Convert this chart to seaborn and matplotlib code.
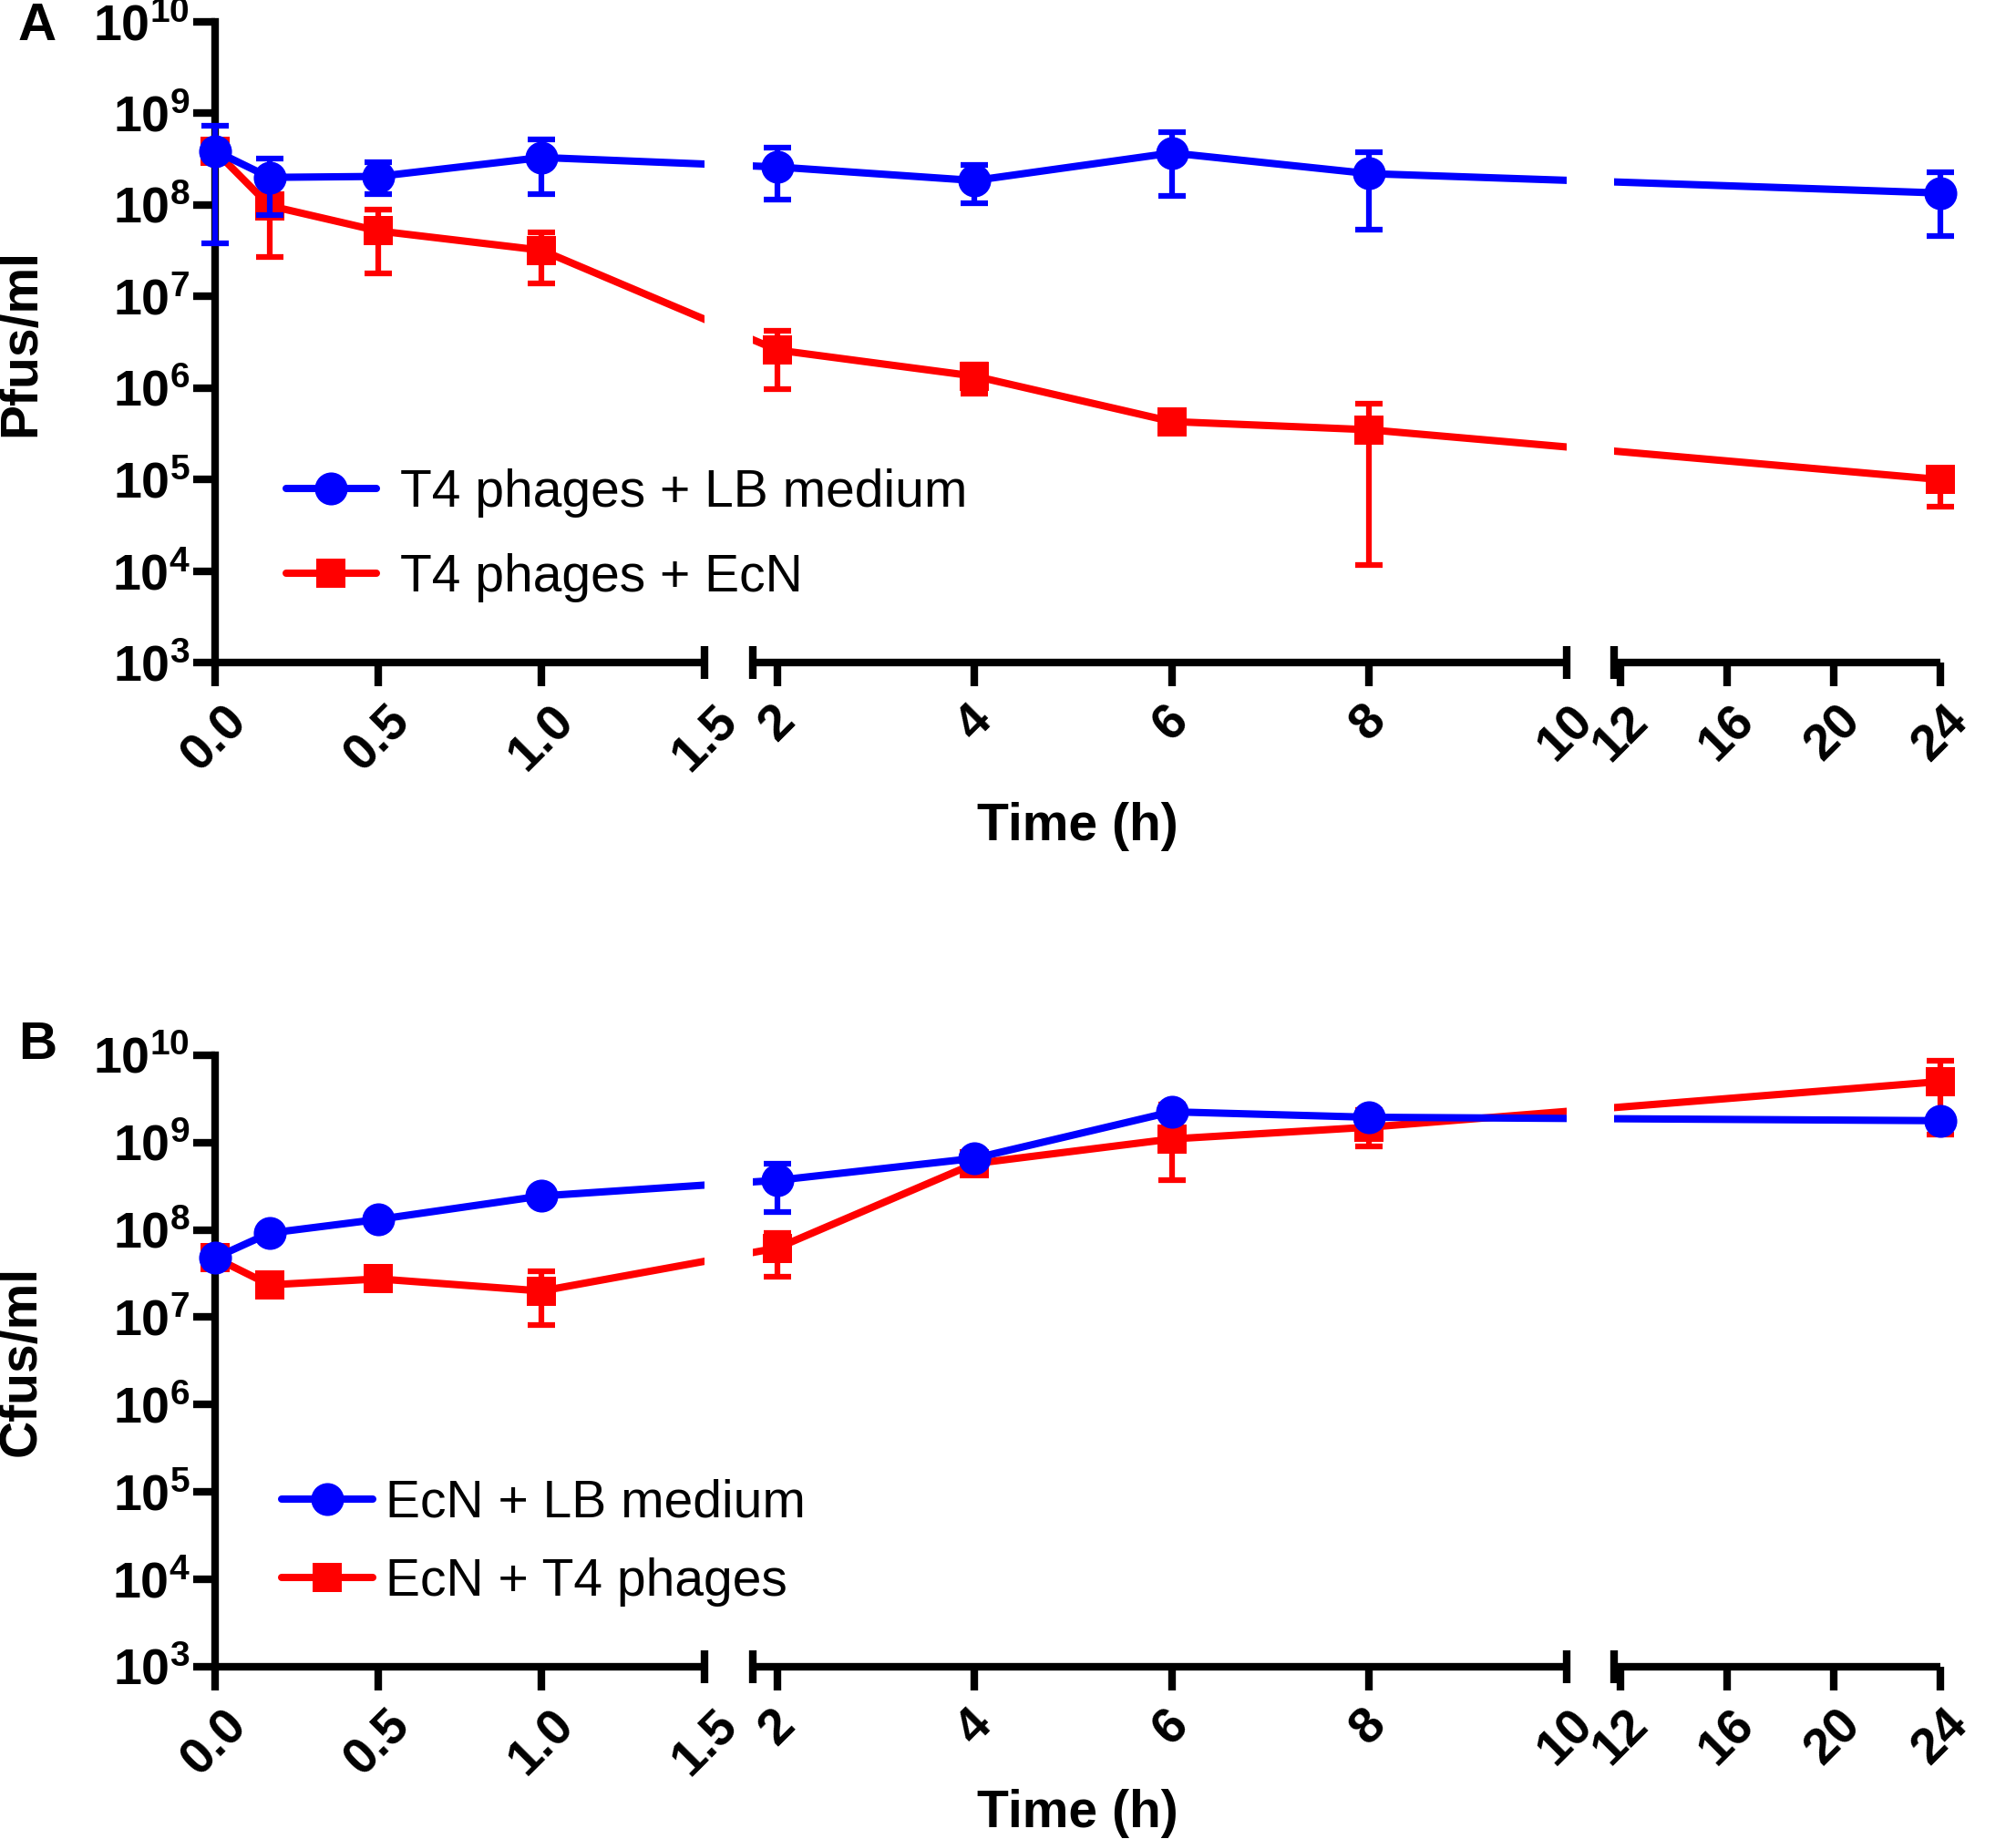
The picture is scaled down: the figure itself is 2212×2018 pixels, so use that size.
import numpy as np
import pandas as pd
import seaborn as sns
import matplotlib.pyplot as plt
from matplotlib.ticker import FixedLocator, NullLocator

# time points (h)
time_h = [0, 1 / 6, 0.5, 1, 2, 4, 6, 8, 24]

# panel A: phage titres (Pfus/ml)
a_labels = ["T4 phages + LB medium", "T4 phages + EcN"]
a_lb_mean = [3.9e8, 2.0e8, 2.05e8, 3.3e8, 2.6e8, 1.85e8, 3.7e8, 2.2e8, 1.35e8]
a_lb_hi = [7.3e8, 3.2e8, 2.9e8, 5.2e8, 4.2e8, 2.75e8, 6.3e8, 3.8e8, 2.3e8]
a_lb_lo = [3.8e7, 7.8e7, 1.3e8, 1.3e8, 1.15e8, 1.05e8, 1.25e8, 5.4e7, 4.6e7]
a_ecn_mean = [3.9e8, 9.8e7, 5.2e7, 3.2e7, 2.6e6, 1.35e6, 4.3e5, 3.5e5, 1.0e5]
a_ecn_hi = [5.0e8, 1.23e8, 8.9e7, 5.0e7, 4.2e6, 1.8e6, 5.0e5, 6.8e5, 1.26e5]
a_ecn_lo = [2.95e8, 2.7e7, 1.8e7, 1.4e7, 9.8e5, 8.7e5, 3.6e5, 1.17e4, 5.1e4]

# panel B: bacterial counts (Cfus/ml)
b_labels = ["EcN + LB medium", "EcN + T4 phages"]
b_lb_mean = [4.8e7, 9.2e7, 1.32e8, 2.45e8, 3.7e8, 6.6e8, 2.25e9, 1.95e9, 1.78e9]
b_lb_hi = [4.8e7, 9.2e7, 1.32e8, 2.45e8, 5.75e8, 6.6e8, 2.25e9, 1.95e9, 1.78e9]
b_lb_lo = [4.8e7, 9.2e7, 1.32e8, 2.45e8, 1.6e8, 6.6e8, 2.25e9, 1.95e9, 1.78e9]
b_t4_mean = [4.8e7, 2.35e7, 2.75e7, 2.0e7, 6.2e7, 5.75e8, 1.1e9, 1.5e9, 5.0e9]
b_t4_hi = [4.8e7, 2.35e7, 3.2e7, 3.4e7, 9.3e7, 6.3e8, 2.75e9, 2.35e9, 8.7e9]
b_t4_lo = [4.8e7, 2.35e7, 2.4e7, 8.1e6, 2.9e7, 5.25e8, 3.7e8, 9.1e8, 1.23e9]

x_ticks = [0, 0.5, 1, 1.5, 2, 4, 6, 8, 10, 12, 16, 20, 24]
x_ticklabels = ["0.0", "0.5", "1.0", "1.5", "2", "4", "6", "8", "10", "12", "16", "20", "24"]
y_exponents = [3, 4, 5, 6, 7, 8, 9, 10]

# broken x axis: three linear pieces with gaps 1.5-1.75 and 10-11.75
BREAK_T = [0, 1.5, 1.75, 10, 11.75, 24]
BREAK_U = [0, 381, 418, 1051, 1088, 1342]


def fwd(t):
    return np.interp(t, BREAK_T, BREAK_U)


def inv(u):
    return np.interp(u, BREAK_U, BREAK_T)


sns.set_style("ticks")
plt.rcParams["font.family"] = ["Liberation Sans", "DejaVu Sans"]
plt.rcParams["mathtext.fontset"] = "custom"
plt.rcParams["mathtext.rm"] = "Liberation Sans"
plt.rcParams["mathtext.bf"] = "Liberation Sans:bold"
for key in ["text.color", "axes.labelcolor", "xtick.color", "ytick.color", "axes.edgecolor"]:
    plt.rcParams[key] = "black"

BLUE = "#0000FF"
RED = "#FF0000"
LW = 6


def draw_panel(ax, labels, series, ylabel, leg_anchor, xlabel_y, spacing, textpad):
    rows = []
    for lab, (mean, hi, lo) in zip(labels, series):
        for t, m in zip(time_h, mean):
            rows.append({"time": t, "value": m, "group": lab})
    df = pd.DataFrame(rows)

    sns.lineplot(data=df, x="time", y="value", hue="group", style="group",
                 hue_order=labels, style_order=labels,
                 palette={labels[0]: BLUE, labels[1]: RED},
                 markers={labels[0]: "o", labels[1]: "s"}, dashes=False,
                 ax=ax, legend=False)
    lines = list(ax.lines[:2])
    lines[0].set_zorder(4)
    lines[1].set_zorder(3)
    lines[0].set_markersize(26)
    lines[1].set_markersize(23)
    for ln in lines:
        ln.set_clip_on(False)
        ln.set_linewidth(5.8)
        ln.set_markeredgewidth(0)

    for (mean, hi, lo), col, z in zip(series, [BLUE, RED], [3.9, 2.9]):
        mean = np.array(mean)
        yerr = [mean - np.array(lo), np.array(hi) - mean]
        eb = ax.errorbar(time_h, mean, yerr=yerr, fmt="none", ecolor=col,
                         elinewidth=4.5, capsize=11, capthick=4.5, zorder=z)
        for art in eb.lines[1] + eb.lines[2]:
            art.set_clip_on(False)

    ax.set_yscale("log")
    ax.set_xscale("function", functions=(fwd, inv))
    ax.set_xlim(0, 24)
    ax.set_ylim(1e3, 1e10)

    ax.xaxis.set_major_locator(FixedLocator(x_ticks))
    ax.set_xticklabels(x_ticklabels, rotation=45, ha="center",
                       fontsize=40, fontweight="bold")
    for tk, loc in zip(ax.xaxis.get_major_ticks(), x_ticks):
        if loc in (1.5, 10):
            tk.tick1line.set_visible(False)
    ax.yaxis.set_major_locator(FixedLocator([10.0 ** e for e in y_exponents]))
    ax.set_yticklabels([r"$\mathbf{10^{%d}}$" % e for e in y_exponents], fontsize=40)
    ax.yaxis.set_minor_locator(NullLocator())
    ax.xaxis.set_minor_locator(NullLocator())
    ax.tick_params(axis="x", length=19, width=LW, pad=8, color="black")
    ax.tick_params(axis="y", length=17, width=LW, pad=3, color="black")

    sns.despine(ax=ax, top=True, right=True, bottom=True)
    ax.spines["left"].set_linewidth(LW)
    ax.spines["left"].set_color("black")

    # gaps of the broken axis
    for a, b in [(1.5, 1.75), (10, 11.75)]:
        ax.axvspan(a, b, color="white", zorder=5, lw=0)
    xtr = ax.get_xaxis_transform()
    for a, b in [(0, 1.5), (1.75, 10), (11.75, 24)]:
        ax.plot([a, b], [0, 0], color="black", lw=LW, transform=xtr,
                clip_on=False, solid_capstyle="butt", zorder=7)
    ax.plot([1.5, 1.75, 10, 11.75], [0, 0, 0, 0], ls="none", marker="|",
            ms=26, mew=LW, color="black", transform=xtr, clip_on=False, zorder=7)

    ax.set_xlabel("Time (h)", fontsize=41, fontweight="bold")
    ax.xaxis.set_label_coords(0.5, xlabel_y)
    ax.set_ylabel(ylabel, fontsize=41, fontweight="bold")
    ax.yaxis.set_label_coords(-0.098, 0.5)

    ax.legend(handles=lines, labels=labels, loc="center left",
              bbox_to_anchor=leg_anchor, frameon=False, fontsize=41,
              borderaxespad=0, borderpad=0, handlelength=1.75,
              handletextpad=textpad, labelspacing=spacing, numpoints=1)


fig = plt.figure(figsize=(22.12, 20.18), dpi=100)
ax_a = fig.add_axes([0.1067, 0.6397, 0.8558, 0.3484])
ax_b = fig.add_axes([0.1067, 0.0937, 0.8558, 0.3325])

draw_panel(ax_a, a_labels,
           [(a_lb_mean, a_lb_hi, a_lb_lo), (a_ecn_mean, a_ecn_hi, a_ecn_lo)],
           "Pfus/ml", (0.041, 0.199), -0.218, 0.68, 0.45)
draw_panel(ax_b, b_labels,
           [(b_lb_mean, b_lb_hi, b_lb_lo), (b_t4_mean, b_t4_hi, b_t4_lo)],
           "Cfus/ml", (0.0386, 0.203), -0.20, 0.57, 0.25)

fig.text(0.009, 0.9856, "A", fontsize=42, fontweight="bold", va="center", ha="left")
fig.text(0.009, 0.4316, "B", fontsize=42, fontweight="bold", va="center", ha="left")

fig.savefig("out.png", dpi=100, facecolor="white")
